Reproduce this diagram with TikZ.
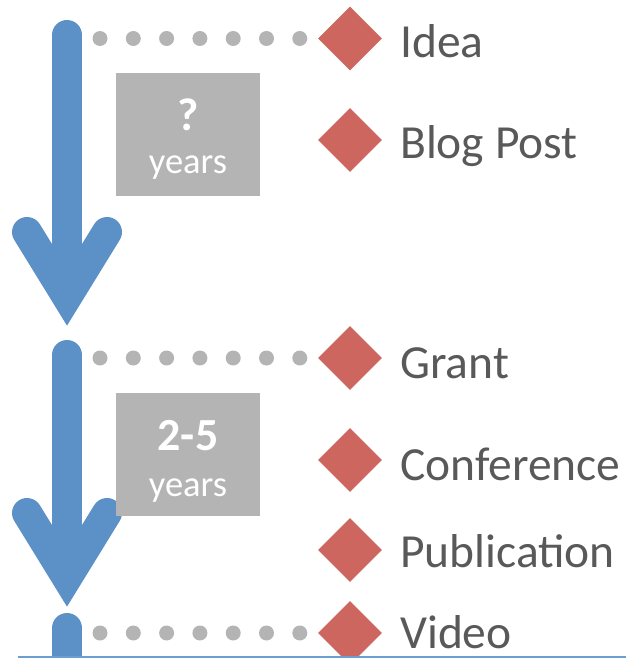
\documentclass[tikz,border=0pt]{standalone}
\usepackage{fontspec}
\setmainfont{Carlito}
\usetikzlibrary{shapes.geometric,positioning,calc}
\definecolor{arrowblue}{RGB}{91,145,198}
\definecolor{lineblue}{RGB}{108,158,208}
\definecolor{dotgray}{RGB}{180,180,180}
\definecolor{boxgray}{RGB}{180,180,180}
\definecolor{markred}{RGB}{205,102,95}
\definecolor{labelgray}{RGB}{89,89,89}

\tikzset{
  event/.style={diamond,fill=markred,minimum width=64pt,minimum height=64pt,inner sep=0pt},
  evlabel/.style={anchor=base west,text=labelgray,inner sep=0pt,font=\fontsize{47.5}{50}\selectfont},
  dotline/.style={dotgray,line width=15pt,line cap=round,dash pattern=on 0pt off 33.3pt},
  shaft/.style={arrowblue,line width=30pt,line cap=round},
  barbs/.style={arrowblue,line width=30pt,line cap=round,line join=miter},
  yearbox/.style={fill=boxgray,minimum width=144pt,minimum height=123pt,inner sep=0pt},
  boxnum/.style={anchor=base,text=white,inner sep=0pt,font=\fontsize{46}{48}\selectfont\bfseries},
  boxunit/.style={anchor=base,text=white,inner sep=0pt,font=\fontsize{36.5}{40}\selectfont}
}

\begin{document}
\begin{tikzpicture}[x=1pt,y=-1pt]
  \useasboundingbox (0,0) rectangle (626,658);

  % timeline arrows
  \coordinate (a1s) at (67,35);
  \coordinate (a1e) at (67,297);
  \coordinate (a2s) at (67,355);
  \coordinate (a2e) at (67,578);
  \coordinate (a3s) at (67,628);
  \coordinate (a3e) at (67,657);
  \draw[shaft] (a1s) -- ($(a1e)+(0,-1)$);
  \draw[barbs] ($(a1e)+(-40,-65)$) -- (a1e) -- ($(a1e)+(40,-65)$);
  \draw[shaft] (a2s) -- ($(a2e)+(0,-1)$);
  \draw[barbs] ($(a2e)+(-40,-65)$) -- (a2e) -- ($(a2e)+(40,-65)$);
  \draw[shaft] (a3s) -- (a3e);

  % events
  \node[event] (idea) at (350,38.5) {};
  \node[event] (blog) at (350,140) {};
  \node[event] (grant) at (350,358) {};
  \node[event] (conf) at (350,460) {};
  \node[event] (publ) at (350,550) {};
  \node[event] (video) at (350,633) {};
  \node[evlabel] (idealbl) at (400,58) {Idea};
  \node[evlabel] (bloglbl) at (400,158) {Blog Post};
  \node[evlabel] (grantlbl) at (400,378) {Grant};
  \node[evlabel] (conflbl) at (400,480) {Conference};
  \node[evlabel] (publlbl) at (400,567) {Publication};
  \node[evlabel] (videolbl) at (400,648) {Video};

  % dotted leaders
  \coordinate (d1) at (100,38.5);
  \coordinate (d2) at (100,358);
  \coordinate (d3) at (100,633);
  \draw[dotline] (d1) -- ([xshift=-18pt]idea.west);
  \draw[dotline] (d2) -- ([xshift=-18pt]grant.west);
  \draw[dotline] (d3) -- ([xshift=-18pt]video.west);

  % durations
  \node[yearbox] (box1) at (188,134.5) {};
  \node[boxnum] (box1num) at (188,130) {?};
  \node[boxunit] (box1unit) at (188,173) {years};
  \node[yearbox] (box2) at (188,454.5) {};
  \node[boxnum] (box2num) at (188,450) {2-5};
  \node[boxunit] (box2unit) at (188,496) {years};

  % base line
  \coordinate (bl) at (18,657);
  \coordinate (br) at (626,657);
  \draw[lineblue,line width=2pt] (bl) -- (br);
\end{tikzpicture}
\end{document}
